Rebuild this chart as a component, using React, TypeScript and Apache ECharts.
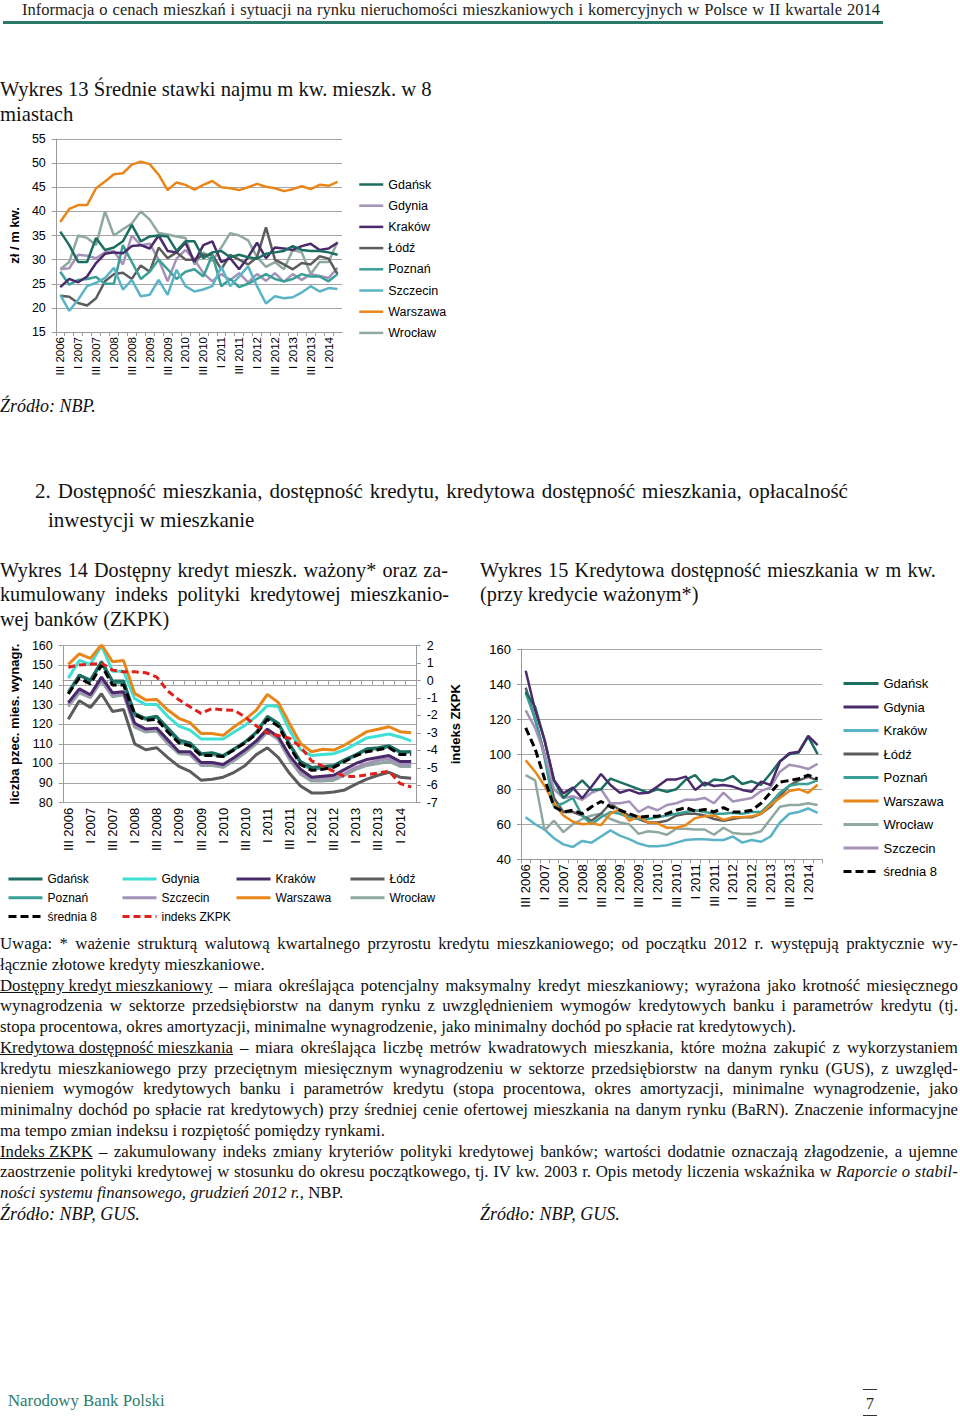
import React, { useEffect, useRef } from "react";
import * as echarts from "echarts";

// ---------- DATA ----------
const quarters = ["III 2006","IV 2006","I 2007","II 2007","III 2007","IV 2007","I 2008","II 2008","III 2008","IV 2008","I 2009","II 2009","III 2009","IV 2009","I 2010","II 2010","III 2010","IV 2010","I 2011","II 2011","III 2011","IV 2011","I 2012","II 2012","III 2012","IV 2012","I 2013","II 2013","III 2013","IV 2013","I 2014","II 2014"];

// Wykres 13 – rents (zł / m kw.)
const rentGdansk = [35.8,33.0,29.5,29.5,34.5,32.0,32.5,33.8,37.2,33.8,34.8,35.0,34.8,31.8,33.8,33.8,30.3,31.5,31.8,30.5,31.0,30.5,30.2,31.2,31.5,31.8,32.8,32.0,31.8,31.8,31.5,31.0];
const rentGdynia = [28.0,28.2,31.0,30.8,30.3,31.5,31.8,29.0,35.0,33.0,33.3,30.0,25.5,30.2,32.0,30.0,27.2,25.5,27.0,25.8,27.2,25.3,27.0,25.6,27.2,25.4,27.0,25.8,27.0,26.6,26.2,28.3];
const rentKrakow = [24.3,26.0,25.3,26.5,29.3,31.2,31.5,31.3,32.8,33.0,32.3,35.0,31.8,31.5,33.5,29.5,33.0,33.8,29.5,30.3,28.0,30.5,33.5,30.3,32.5,32.3,32.0,32.8,33.3,32.0,32.3,33.5];
const rentLodz = [22.5,22.3,21.0,20.5,22.0,25.5,27.0,27.3,26.0,28.8,27.5,32.5,30.3,31.5,30.0,30.0,31.0,31.0,28.0,31.0,30.0,29.0,30.5,36.7,30.0,29.0,28.0,29.3,29.0,30.7,30.2,27.0];
const rentPoznan = [27.5,24.8,25.8,26.0,26.4,25.0,25.0,33.0,29.5,26.0,27.5,30.0,28.0,26.0,27.5,28.0,26.5,31.0,24.5,26.0,24.3,25.0,26.0,27.0,26.0,25.5,26.0,27.0,26.5,26.5,25.5,27.0];
const rentSzczecin = [22.7,19.4,21.7,24.5,25.2,26.2,28.3,23.8,25.8,22.4,22.7,25.8,22.7,27.9,24.5,23.4,23.8,24.5,28.5,24.5,26.5,28.6,24.5,20.9,22.4,22.0,22.2,23.2,24.5,23.4,24.1,23.9];
const rentWarszawa = [37.8,40.5,41.3,41.3,44.8,46.2,47.7,47.9,49.7,50.3,49.8,47.6,44.4,46.0,45.5,44.5,45.5,46.3,45.0,44.8,44.4,45.0,45.7,45.1,44.8,44.2,44.6,45.2,44.6,45.5,45.3,46.1];
const rentWroclaw = [28.0,29.5,35.0,34.5,33.0,40.0,35.0,36.3,37.5,40.0,38.3,35.5,35.2,34.8,34.5,29.0,31.5,29.7,32.5,35.5,35.0,34.0,30.5,28.5,29.5,28.0,32.0,31.5,27.0,29.5,29.5,33.7];

// Wykres 14 – available credit (multiples of monthly wage) and ZKPK index
const kGdansk = [135.5,145.0,142.5,152.0,142.0,142.0,125.5,123.0,124.0,118.0,112.0,110.5,105.0,105.5,104.0,107.5,111.0,116.0,124.0,120.5,110.0,101.0,98.0,98.5,99.0,102.0,104.5,107.5,108.0,109.0,106.0,106.0];
const kGdynia = [143.5,152.5,150.5,160.0,147.0,147.0,133.0,130.0,130.0,124.0,119.0,117.0,112.5,112.5,112.5,116.0,119.5,124.0,129.5,129.0,117.0,107.0,104.0,104.5,105.0,107.0,110.0,113.0,114.0,115.0,113.5,111.5];
const kKrakow = [131.0,138.0,135.0,144.0,136.0,136.5,120.5,117.5,118.0,112.0,106.0,106.0,100.5,100.5,99.5,103.0,107.0,111.5,117.5,113.5,104.0,97.0,93.0,93.5,94.0,97.0,100.0,102.0,103.0,104.0,101.0,101.0];
const kLodz = [122.5,132.0,128.5,135.5,126.5,127.5,110.0,107.0,108.0,103.0,98.5,96.0,91.5,92.0,93.0,95.5,99.0,104.5,108.0,103.0,95.0,88.5,85.0,85.0,85.5,86.5,89.5,92.0,94.0,95.5,93.0,92.5];
const kPoznan = [136.5,145.0,142.0,151.0,141.5,141.0,124.5,122.5,123.5,117.0,111.0,109.5,104.5,104.5,103.5,107.0,111.0,115.5,123.5,120.0,109.5,100.0,97.0,97.5,98.5,101.5,104.0,107.0,107.5,108.5,105.5,106.0];
const kSzczecin = [130.0,137.0,134.0,143.0,135.0,136.0,119.5,117.0,117.5,111.0,106.0,105.0,99.5,100.0,99.0,102.5,106.5,111.0,116.5,113.0,103.0,95.5,92.0,92.5,92.5,95.0,98.0,100.0,101.5,102.5,99.5,99.5];
const kWarszawa = [150.5,155.8,153.5,160.5,151.8,152.4,135.7,132.3,132.6,127.2,123.0,120.8,115.3,115.3,114.3,118.7,122.5,127.2,135.2,131.0,120.4,110.2,106.0,107.2,106.8,109.4,112.8,116.2,117.4,118.7,116.2,115.7];
const kWroclaw = [129.0,136.0,133.5,142.0,134.0,135.0,118.5,116.0,116.5,110.0,105.0,104.5,99.0,99.0,98.0,101.5,105.5,110.0,116.0,112.0,102.0,94.5,91.0,91.0,91.5,94.0,97.0,99.0,100.0,101.0,98.5,98.5];
const kSrednia = [135.5,143.5,140.5,150.0,140.0,140.0,125.0,122.0,122.5,116.0,110.5,109.0,104.0,104.0,103.5,107.0,110.5,115.0,122.5,119.0,108.5,99.5,96.5,97.0,98.0,101.0,104.0,106.0,107.0,108.0,104.5,104.5];
const kZKPK = [0.76,0.9,0.93,1.0,0.6,0.5,0.5,0.45,0.2,-0.6,-1.1,-1.5,-1.88,-1.6,-1.68,-1.7,-2.1,-2.6,-3.0,-3.15,-3.3,-3.8,-4.6,-4.9,-5.2,-5.5,-5.5,-5.4,-5.3,-5.2,-5.9,-6.1];

// Wykres 15 – credit affordability (m kw.)
const aGdansk = [135.7,127.0,108.0,85.0,75.0,80.0,85.0,79.5,80.0,86.0,84.0,82.0,80.0,78.0,80.0,78.5,80.0,85.5,88.0,82.0,85.5,85.0,87.5,83.0,84.5,82.5,89.0,96.0,100.0,101.0,110.0,100.0];
const aGdynia = [147.6,125.2,108.0,85.3,77.6,81.0,74.8,81.5,88.7,82.4,78.0,79.6,77.6,78.0,81.5,85.6,85.6,87.2,79.6,83.7,81.8,82.4,81.5,79.6,78.6,84.3,82.4,95.7,100.5,101.4,110.4,105.2];
const aKrakow = [64.0,60.0,57.0,52.0,48.5,47.0,50.5,49.5,53.0,56.5,53.5,51.5,49.0,47.5,47.5,48.0,49.5,51.0,51.5,51.5,51.0,51.0,53.0,49.5,51.0,50.0,53.0,61.0,66.0,67.0,69.0,66.5];
const aLodz = [138.0,120.0,100.0,75.0,67.0,67.0,65.0,62.0,66.0,72.0,68.0,65.0,63.0,61.0,61.0,62.0,65.0,66.0,66.0,65.0,63.0,62.0,63.0,64.0,64.0,66.0,70.0,76.0,82.0,85.0,87.0,85.0];
const aPoznan = [135.0,120.0,98.0,70.0,72.0,75.0,65.0,60.0,64.0,67.0,66.0,64.0,63.0,63.0,64.0,65.0,66.0,67.0,68.0,67.0,66.0,66.0,66.5,66.0,67.0,67.0,72.0,78.0,82.0,83.0,83.0,85.0];
const aWarszawa = [96.5,90.0,82.0,72.0,65.0,61.5,60.0,60.5,59.5,66.0,68.5,62.0,64.5,61.0,60.5,58.0,58.0,59.5,63.5,64.5,65.0,62.5,64.0,64.0,64.5,66.0,71.0,75.0,79.0,80.0,78.0,82.5];
const aWroclaw = [88.0,85.0,56.5,62.0,55.5,60.0,63.0,65.0,66.0,63.0,61.0,60.0,54.5,56.0,55.5,54.0,57.5,57.5,57.0,57.0,54.0,58.0,55.0,54.5,54.5,56.0,63.0,70.0,71.0,71.0,72.0,71.0];
const aSzczecin = [125.0,115.0,100.0,80.0,75.0,76.0,74.0,78.0,80.0,72.0,72.0,73.0,67.0,70.0,68.0,71.0,72.0,74.0,74.0,75.0,72.0,78.0,73.0,74.0,75.0,79.0,81.0,90.0,94.0,93.0,91.5,94.5];
const aSrednia = [115.0,103.0,86.0,70.0,67.0,68.0,66.0,70.0,73.0,70.0,68.0,66.0,64.0,64.5,64.5,66.0,68.0,69.5,67.5,68.5,67.0,69.5,67.0,67.0,68.0,72.0,78.0,84.0,85.0,86.0,88.0,86.0];

// ---------- STYLE ----------
const SANS = '"Liberation Sans", Arial, sans-serif';
const SERIF = '"Liberation Serif", "Times New Roman", serif';
const GRID = "#a6a6a6";
const AXIS = "#9a9a9a";

const C = {
  darkTeal: "#1b6e60",
  teal: "#3a9f96",
  lilac: "#a592b8",
  purple: "#4b2a6b",
  darkGray: "#5c5c5c",
  lightBlue: "#5ab4c6",
  orange: "#e8861a",
  grayGreen: "#8fa8a0",
  cyan: "#3fe0d4",
  red: "#e0201c",
  black: "#000000",
};

function line(name: string, data: number[], color: string, width: number, extra: any = {}) {
  return {
    type: "line",
    name,
    data,
    symbol: "none",
    smooth: false,
    lineStyle: { color, width, ...(extra.lineStyle || {}) },
    itemStyle: { color },
    yAxisIndex: extra.yAxisIndex || 0,
    z: extra.z || 2,
  };
}

function catAxis(fontSize: number) {
  return {
    type: "category",
    data: quarters,
    boundaryGap: true,
    axisLine: { lineStyle: { color: AXIS } },
    axisTick: { show: true, interval: 0, length: 4, lineStyle: { color: AXIS } },
    axisLabel: { interval: 1, rotate: 90, fontSize, color: "#000", fontFamily: SANS, margin: 5 },
    splitLine: { show: false },
  };
}

function legendBase(lw: number) {
  return {
    padding: 0,
    itemStyle: { opacity: 0 },
    lineStyle: { width: lw },
    textStyle: { color: "#000", fontFamily: SANS },
  };
}

const option13 = {
  animation: false,
  textStyle: { fontFamily: SANS, color: "#000" },
  grid: { left: 52, top: 14, width: 290, height: 193 },
  xAxis: catAxis(11.5),
  yAxis: {
    type: "value", min: 15, max: 55, interval: 5,
    axisLine: { show: true, lineStyle: { color: AXIS } },
    axisTick: { show: true, length: 4, lineStyle: { color: AXIS } },
    axisLabel: { fontSize: 12.5, color: "#000", margin: 10, fontFamily: SANS },
    splitLine: { lineStyle: { color: GRID } },
    name: "zł / m kw.", nameLocation: "middle", nameGap: 31,
    nameTextStyle: { fontWeight: "bold", fontSize: 13, color: "#000", fontFamily: SANS },
  },
  legend: {
    ...legendBase(2.5),
    orient: "vertical", left: 358, top: 53, itemWidth: 24, itemHeight: 14, itemGap: 8.2,
    textStyle: { color: "#000", fontFamily: SANS, fontSize: 12.5 },
    data: ["Gdańsk","Gdynia","Kraków","Łódź","Poznań","Szczecin","Warszawa","Wrocław"],
  },
  series: [
    line("Wrocław", rentWroclaw, C.grayGreen, 2.5),
    line("Gdynia", rentGdynia, C.lilac, 2.5),
    line("Łódź", rentLodz, C.darkGray, 2.5),
    line("Poznań", rentPoznan, C.teal, 2.5),
    line("Szczecin", rentSzczecin, C.lightBlue, 2.5),
    line("Kraków", rentKrakow, C.purple, 2.5),
    line("Gdańsk", rentGdansk, C.darkTeal, 2.5),
    line("Warszawa", rentWarszawa, C.orange, 2.5),
  ],
};

const leg14 = (left: number, data: string[]) => ({
  ...legendBase(3),
  orient: "vertical", left, top: 243, itemWidth: 34, itemHeight: 12, itemGap: 6.8,
  textStyle: { color: "#000", fontFamily: SANS, fontSize: 12 },
  data,
});

const option14 = {
  animation: false,
  textStyle: { fontFamily: SANS, color: "#000" },
  grid: { left: 61, top: 15.7, width: 355.7, height: 157 },
  xAxis: catAxis(13),
  yAxis: [
    {
      type: "value", min: 80, max: 160, interval: 10, position: "left",
      axisLine: { show: true, lineStyle: { color: AXIS } },
      axisTick: { show: true, length: 4, lineStyle: { color: AXIS } },
      axisLabel: { fontSize: 12.5, color: "#000", margin: 10, fontFamily: SANS },
      splitLine: { lineStyle: { color: GRID } },
      name: "liczba pzec. mies. wynagr.", nameLocation: "middle", nameGap: 38,
      nameTextStyle: { fontWeight: "bold", fontSize: 13, color: "#000", fontFamily: SANS },
    },
    {
      type: "value", min: -7, max: 2, interval: 1, position: "right",
      axisLine: { show: true, lineStyle: { color: AXIS } },
      axisTick: { show: true, length: 4, lineStyle: { color: AXIS } },
      axisLabel: { fontSize: 12.5, color: "#000", margin: 10, fontFamily: SANS },
      splitLine: { show: false },
      name: "indeks ZKPK", nameLocation: "middle", nameGap: 28, nameRotate: 90,
      nameTextStyle: { fontWeight: "bold", fontSize: 13, color: "#000", fontFamily: SANS },
    },
  ],
  legend: [
    leg14(7, ["Gdańsk", "Poznań", "średnia 8"]),
    leg14(121, ["Gdynia", "Szczecin", "indeks ZKPK"]),
    leg14(235, ["Kraków", "Warszawa"]),
    leg14(349, ["Łódź", "Wrocław"]),
  ],
  series: [
    line("Łódź", kLodz, C.darkGray, 3),
    line("Wrocław", kWroclaw, C.grayGreen, 3),
    line("Szczecin", kSzczecin, C.lilac, 3),
    line("Kraków", kKrakow, C.purple, 3),
    line("Poznań", kPoznan, C.teal, 3),
    line("Gdańsk", kGdansk, C.darkTeal, 3),
    line("Gdynia", kGdynia, C.cyan, 3),
    line("Warszawa", kWarszawa, C.orange, 3),
    line("średnia 8", kSrednia, C.black, 3, { lineStyle: { type: [8, 4] }, z: 3 }),
    line("indeks ZKPK", kZKPK, C.red, 3, { lineStyle: { type: [7, 4] }, yAxisIndex: 1, z: 4 }),
  ],
};

const option15 = {
  animation: false,
  textStyle: { fontFamily: SANS, color: "#000" },
  grid: { left: 41, top: 19, width: 301.3, height: 210.3 },
  xAxis: catAxis(13),
  yAxis: {
    type: "value", min: 40, max: 160, interval: 20,
    axisLine: { show: true, lineStyle: { color: AXIS } },
    axisTick: { show: true, length: 4, lineStyle: { color: AXIS } },
    axisLabel: { fontSize: 13, color: "#000", margin: 10, fontFamily: SANS },
    splitLine: { lineStyle: { color: GRID } },
  },
  legend: {
    ...legendBase(3),
    orient: "vertical", left: 362, top: 47, itemWidth: 35, itemHeight: 14, itemGap: 10.5,
    textStyle: { color: "#000", fontFamily: SANS, fontSize: 13 },
    data: ["Gdańsk","Gdynia","Kraków","Łódź","Poznań","Warszawa","Wrocław","Szczecin","średnia 8"],
  },
  series: [
    line("Kraków", aKrakow, C.lightBlue, 2.5),
    line("Wrocław", aWroclaw, C.grayGreen, 2.5),
    line("Łódź", aLodz, C.darkGray, 2.5),
    line("Poznań", aPoznan, C.teal, 2.5),
    line("Warszawa", aWarszawa, C.orange, 2.5),
    line("Szczecin", aSzczecin, C.lilac, 2.5),
    line("Gdańsk", aGdansk, C.darkTeal, 2.5),
    line("Gdynia", aGdynia, C.purple, 2.5),
    line("średnia 8", aSrednia, C.black, 3, { lineStyle: { type: [8, 4] }, z: 3 }),
  ],
};

// ---------- COMPONENTS ----------
function EChart({ option, style }: { option: any; style: React.CSSProperties }) {
  const ref = useRef<HTMLDivElement>(null);
  useEffect(() => {
    const chart = echarts.init(ref.current as HTMLDivElement, null, { renderer: "svg" });
    chart.setOption(option);
    return () => chart.dispose();
  }, [option]);
  return <div ref={ref} style={{ position: "absolute", ...style }} />;
}

// plain (left-aligned) line of text, y = vertical centre
function T({ x, y, size, italic, color, children }: any) {
  const lh = size * 1.2;
  return (
    <div
      style={{
        position: "absolute",
        left: x,
        top: y - lh / 2,
        fontSize: size,
        lineHeight: `${lh}px`,
        fontFamily: SERIF,
        fontStyle: italic ? "italic" : "normal",
        color: color || "#111",
        whiteSpace: "nowrap",
      }}
    >
      {children}
    </div>
  );
}

type Seg = { t: string; u?: boolean; i?: boolean };

// justified line: words spread over width w
function J({ x, y, w, size, color, segs }: { x: number; y: number; w: number; size: number; color?: string; segs: Seg[] }) {
  const lh = size * 1.2;
  const items: { t: string; u?: boolean; i?: boolean }[] = [];
  segs.forEach((s) => {
    if (s.u) items.push({ t: s.t.trim(), u: true, i: s.i });
    else s.t.split(" ").filter((p) => p.length > 0).forEach((p) => items.push({ t: p, i: s.i }));
  });
  return (
    <div
      style={{
        position: "absolute",
        left: x,
        top: y - lh / 2,
        width: w,
        height: lh,
        display: "flex",
        justifyContent: "space-between",
        fontSize: size,
        lineHeight: `${lh}px`,
        fontFamily: SERIF,
        color: color || "#111",
        whiteSpace: "nowrap",
      }}
    >
      {items.map((it, k) => (
        <span key={k} style={{ fontStyle: it.i ? "italic" : "normal", textDecoration: it.u ? "underline" : "none" }}>
          {it.t}
        </span>
      ))}
    </div>
  );
}

const NS = 16.8; // notes font size

export default function App() {
  return (
    <div style={{ position: "absolute", left: 0, top: 0, width: 960, height: 1418, background: "#fff", overflow: "hidden" }}>
      <J x={22} y={10} w={858} size={16.5} color="#222"
        segs={[{ t: "Informacja o cenach mieszkań i sytuacji na rynku nieruchomości mieszkaniowych i komercyjnych w Polsce w II kwartale 2014" }]} />
      <div style={{ position: "absolute", left: 3, top: 21, width: 880, height: 3, background: "#2a7a6c" }} />

      <T x={0} y={89} size={20.6}>Wykres 13 Średnie stawki najmu m kw. mieszk. w 8</T>
      <T x={0} y={114} size={20.6}>miastach</T>

      <EChart option={option13} style={{ left: 0, top: 125, width: 460, height: 265 }} />

      <T x={0} y={407} size={18} italic>Źródło: NBP.</T>

      <J x={35} y={492} w={813} size={21}
        segs={[{ t: "2. Dostępność mieszkania, dostępność kredytu, kredytowa dostępność mieszkania, opłacalność" }]} />
      <T x={48} y={521} size={21}>inwestycji w mieszkanie</T>

      <J x={0} y={570} w={448} size={20.2} segs={[{ t: "Wykres 14 Dostępny kredyt mieszk. ważony* oraz za-" }]} />
      <J x={0} y={594} w={449} size={20.2} segs={[{ t: "kumulowany indeks polityki kredytowej mieszkanio-" }]} />
      <T x={0} y={619} size={20.2}>wej banków (ZKPK)</T>

      <J x={480} y={570} w={456} size={20.3} segs={[{ t: "Wykres 15 Kredytowa dostępność mieszkania w m kw." }]} />
      <T x={480} y={594} size={20.3}>(przy kredycie ważonym*)</T>

      <EChart option={option14} style={{ left: 0, top: 630, width: 470, height: 310 }} />
      <EChart option={option15} style={{ left: 480, top: 630, width: 480, height: 300 }} />

      <J x={0} y={944} w={958} size={NS}
        segs={[{ t: "Uwaga: * ważenie strukturą walutową kwartalnego przyrostu kredytu mieszkaniowego; od początku 2012 r. występują praktycznie wy-" }]} />
      <T x={0} y={965} size={NS}>łącznie złotowe kredyty mieszkaniowe.</T>
      <J x={0} y={986} w={958} size={NS}
        segs={[{ t: "Dostępny kredyt mieszkaniowy", u: true }, { t: "– miara określająca potencjalny maksymalny kredyt mieszkaniowy; wyrażona jako krotność miesięcznego" }]} />
      <J x={0} y={1006} w={958} size={NS}
        segs={[{ t: "wynagrodzenia w sektorze przedsiębiorstw na danym rynku z uwzględnieniem wymogów kredytowych banku i parametrów kredytu (tj." }]} />
      <T x={0} y={1027} size={NS}>
        stopa procentowa, okres amortyzacji, minimalne wynagrodzenie, jako minimalny dochód po spłacie rat kredytowych).
      </T>
      <J x={0} y={1048} w={958} size={NS}
        segs={[{ t: "Kredytowa dostępność mieszkania", u: true }, { t: "– miara określająca liczbę metrów kwadratowych mieszkania, które można zakupić z wykorzystaniem" }]} />
      <J x={0} y={1069} w={958} size={NS}
        segs={[{ t: "kredytu mieszkaniowego przy przeciętnym miesięcznym wynagrodzeniu w sektorze przedsiębiorstw na danym rynku (GUS), z uwzględ-" }]} />
      <J x={0} y={1089} w={958} size={NS}
        segs={[{ t: "nieniem wymogów kredytowych banku i parametrów kredytu (stopa procentowa, okres amortyzacji, minimalne wynagrodzenie, jako" }]} />
      <J x={0} y={1110} w={958} size={NS}
        segs={[{ t: "minimalny dochód po spłacie rat kredytowych) przy średniej cenie ofertowej mieszkania na danym rynku (BaRN). Znaczenie informacyjne" }]} />
      <T x={0} y={1131} size={NS}>ma tempo zmian indeksu i rozpiętość pomiędzy rynkami.</T>
      <J x={0} y={1152} w={958} size={NS}
        segs={[{ t: "Indeks ZKPK", u: true }, { t: "– zakumulowany indeks zmiany kryteriów polityki kredytowej banków; wartości dodatnie oznaczają złagodzenie, a ujemne" }]} />
      <J x={0} y={1172} w={958} size={NS}
        segs={[{ t: "zaostrzenie polityki kredytowej w stosunku do okresu początkowego, tj. IV kw. 2003 r. Opis metody liczenia wskaźnika w" }, { t: "Raporcie o stabil-", i: true }]} />
      <T x={0} y={1193} size={NS}>
        <i>ności systemu finansowego, grudzień 2012 r.</i>, NBP.
      </T>
      <T x={0} y={1215} size={18} italic>Źródło: NBP, GUS.</T>
      <T x={480} y={1215} size={18} italic>Źródło: NBP, GUS.</T>

      <T x={8} y={1401} size={16.8} color="#2e7d70">Narodowy Bank Polski</T>
      <div style={{ position: "absolute", left: 863, top: 1389, width: 14, height: 1, background: "#333" }} />
      <T x={866} y={1404} size={16} color="#222">7</T>
      <div style={{ position: "absolute", left: 863, top: 1415, width: 14, height: 1, background: "#333" }} />
    </div>
  );
}
